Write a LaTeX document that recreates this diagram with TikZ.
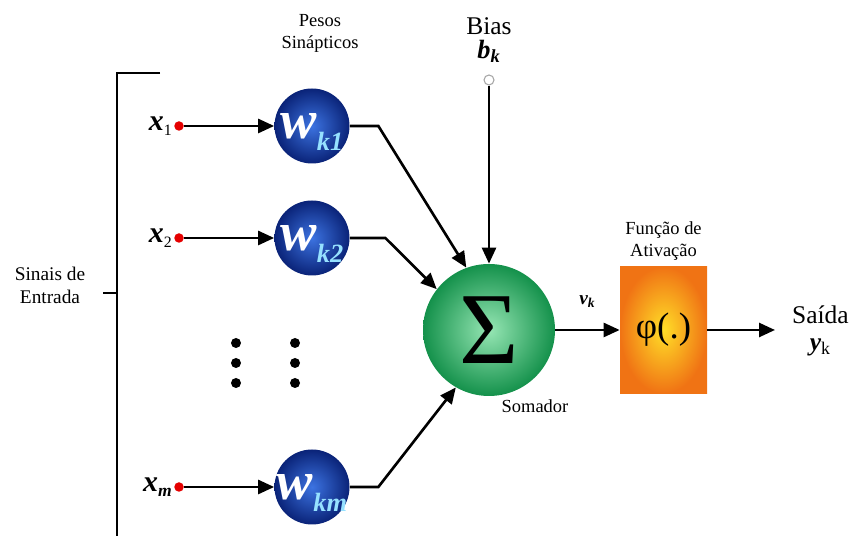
\documentclass[tikz,border=0pt]{standalone}
\usepackage{fontspec}
\setmainfont{Liberation Serif}
\usetikzlibrary{positioning,arrows.meta,calc}
\definecolor{PesoIn}{RGB}{60,115,225}
\definecolor{PesoOut}{RGB}{10,35,120}
\definecolor{PesoSub}{RGB}{150,225,255}
\definecolor{SomaIn}{RGB}{150,230,180}
\definecolor{SomaOut}{RGB}{20,145,75}
\definecolor{AtivIn}{RGB}{255,222,40}
\definecolor{AtivOut}{RGB}{240,115,20}
\tikzset{
  peso/.style={circle, minimum size=1.5cm, inner sep=0pt, shading=radial,
    inner color=PesoIn, outer color=PesoOut, text=white,
    font=\fontsize{31}{31}\selectfont\bfseries\itshape},
  soma/.style={circle, minimum size=2.64cm, inner sep=0pt, shading=radial,
    inner color=SomaIn, outer color=SomaOut, font=\fontsize{58}{58}\selectfont},
  ativ/.style={rectangle, minimum width=1.74cm, minimum height=2.54cm, shading=radial,
    inner color=AtivIn, outer color=AtivOut, font=\fontsize{21}{21}\selectfont},
  entrada/.style={circle, fill=red!90!black, minimum size=0.19cm, inner sep=0pt},
  biasdot/.style={circle, draw=gray!70, fill=white, line width=0.6pt, minimum size=0.2cm, inner sep=0pt},
  pontinho/.style={circle, fill=black, minimum size=0.2cm, inner sep=0pt},
  rotulo/.style={align=center, inner sep=1pt, font=\fontsize{10.5}{12.5}\selectfont},
  grande/.style={align=center, inner sep=1pt, font=\fontsize{14.5}{15}\selectfont},
  xlab/.style={inner sep=1pt, font=\fontsize{17}{17}\selectfont\bfseries\itshape},
  seta/.style={-{Triangle[length=3.2mm,width=2.8mm]}, line width=1.5pt},
  linha/.style={line width=1.5pt}
}
\newcommand{\wsub}[1]{w\smash{\raisebox{-0.22em}{\fontsize{15}{15}\selectfont\color{PesoSub}#1}}}
\newcommand{\xsub}[1]{\raisebox{-0.15em}{\fontsize{9}{9}\selectfont\mdseries\upshape #1}}

\begin{document}
\begin{tikzpicture}
  \useasboundingbox (0,0) rectangle (17.06,10.72);
  \node[entrada] (x1) at (3.58,8.20) {};
  \node[entrada] (x2) at (3.58,5.96) {};
  \node[entrada] (xm) at (3.58,0.98) {};
  \node[xlab, left=0pt of x1] (lx1) {x\xsub{1}};
  \node[xlab, left=0pt of x2] (lx2) {x\xsub{2}};
  \node[xlab, left=0pt of xm] (lxm) {x\raisebox{-0.15em}{\fontsize{10}{10}\selectfont m}};
  \node[peso] (w1) at (6.24,8.20) {\wsub{k1}};
  \node[peso] (w2) at (6.24,5.96) {\wsub{k2}};
  \node[peso] (wm) at (6.24,0.98) {\wsub{km}};
  \foreach \i/\y in {1/3.86,2/3.46,3/3.06} {
    \node[pontinho] (pa\i) at (4.72,\y) {};
    \node[pontinho] (pb\i) at (5.90,\y) {};
  }
  \node[rotulo] (pesos) at (6.40,10.06) {Pesos\\Sinápticos};
  \node[soma] (s) at (9.78,4.12) {Σ};
  \node[rotulo] (somador) at ($(s.south)+(0.92,-0.2)$) {Somador};
  \node[biasdot] (bdot) at (9.78,9.12) {};
  \node[grande, above=0.2cm of bdot, font=\fontsize{15}{15}\selectfont\bfseries\itshape] (bk) {b\textsubscript{k}};
  \node[grande, above=0.02cm of bk] (bias) {Bias};
  \node[ativ] (phi) at (13.27,4.12) {φ(.)};
  \node[rotulo, above=0.08cm of phi] (funcao) {Função de\\Ativação};
  \coordinate (out) at (15.50,4.12);
  \node[grande, right=0.3cm of out, yshift=-0.02cm] (saida) {Saída\\\textbf{\textit{y}}\textsubscript{k}};
  \coordinate (brA) at (3.20,9.26);
  \coordinate (brB) at (2.34,9.26);
  \coordinate (brC) at (2.34,0);
  \coordinate (brT) at (2.06,4.86);
  \node[rotulo, font=\fontsize{11}{13}\selectfont] (sinais) at (1.0,5.02) {Sinais de\\Entrada};
  \draw[linha] (brA) -- (brB) -- (brC);
  \draw[linha] (brT) -- (brT -| brB);
  \draw[seta] (x1) -- (w1);
  \draw[seta] (x2) -- (w2);
  \draw[seta] (xm) -- (wm);
  \draw[seta] (w1.east) -- ++(0.57,0) -- (s.110);
  \draw[seta] (w2.east) -- ++(0.71,0) -- (s.142);
  \draw[seta] (wm.east) -- ++(0.57,0) -- (s.240);
  \draw[seta] (bdot) -- (s);
  \draw[seta] (s) -- node[above=0.3cm, font=\fontsize{11}{11}\selectfont\bfseries\itshape] (vk) {v\textsubscript{k}} (phi);
  \draw[seta] (phi) -- (out);
\end{tikzpicture}
\end{document}
